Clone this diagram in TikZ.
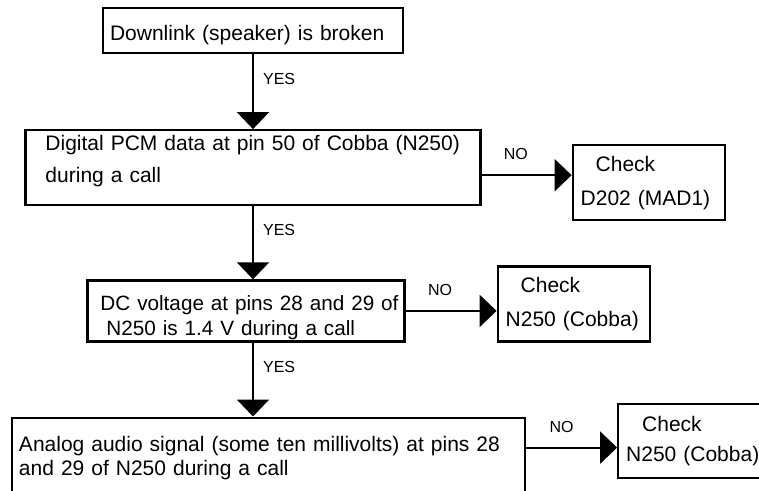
\documentclass[tikz,border=0pt]{standalone}
\usepackage{fontspec}
\setmainfont{Liberation Sans}
\usetikzlibrary{arrows.meta, positioning}
\newcommand{\boxfont}{\fontsize{21bp}{32bp}\selectfont}
\newcommand{\lblfont}{\fontsize{16bp}{19bp}\selectfont}
\tikzstyle{startbox} = [rectangle, draw=black, line width=2.2bp, align=left, inner ysep=0pt, font=\boxfont]
\tikzstyle{testbox} = [startbox]
\tikzstyle{checkbox} = [startbox, minimum width=152bp, minimum height=75bp, inner xsep=8bp, text width=136bp]
\tikzstyle{arrow} = [line width=2.2bp, -{Triangle[width=32bp,length=17bp]}]
\tikzstyle{yesno} = [inner sep=0pt, font=\lblfont]

\begin{document}
\begin{tikzpicture}[x=1bp, y=-1bp]
\useasboundingbox (0,0) rectangle (759,491);

% Tests
\node (broken) [startbox, text width=286bp, inner xsep=7bp, minimum height=45bp] at (253,30.5) {\rule{0pt}{24bp}Downlink (speaker) is broken};
\node (pcm) [testbox, below=75bp of broken, text width=415bp, inner xsep=20bp, minimum height=75bp] {Digital PCM data at pin 50 of Cobba (N250)\\during a call\rule[-18bp]{0pt}{0pt}};
\node (dc) [testbox, below=73bp of pcm, xshift=-7bp, text width=317bp, inner xsep=0bp, minimum height=61bp, font=\fontsize{20.7bp}{25bp}\selectfont] {\rule{0pt}{28bp}\hspace*{13bp}\mbox{DC voltage at pins 28 and 29 of}\\\hspace*{19bp}\mbox{N250 is 1.4 V during a call}};
\node (analog) [testbox, below=74bp of dc, xshift=22.5bp, text width=499bp, inner xsep=7bp, minimum height=80bp, font=\fontsize{21bp}{24bp}\selectfont] {Analog audio signal (some ten millivolts) at pins 28\\and 29 of N250 during a call};

% Checks
\node (chk1) [checkbox, right=90bp of pcm, yshift=-15bp, font=\fontsize{21bp}{34bp}\selectfont] {\hspace*{15bp}Check\\D202 (MAD1)};
\node (chk2) [checkbox, right=91bp of dc, yshift=7bp, font=\fontsize{21bp}{34bp}\selectfont] {\hspace*{15bp}Check\\N250 (Cobba)};
\node (chk3) [checkbox, right=91bp of analog, yshift=17bp, minimum width=142bp, minimum height=74bp, inner xsep=1bp, text width=140bp, font=\fontsize{21bp}{30bp}\selectfont] {\hspace*{23bp}Check\\\hspace*{7bp}N250~(Cobba)};

% YES path
\draw [arrow] (broken.south) -- node[yesno, pos=0.33, right=9bp] {YES} (broken.south |- pcm.north);
\draw [arrow] (pcm.south) -- node[yesno, pos=0.33, right=9bp] {YES} (pcm.south |- dc.north);
\draw [arrow] (pcm.south |- dc.south) -- node[yesno, pos=0.33, right=9bp] {YES} (pcm.south |- analog.north);

% NO branches
\draw [arrow] ([yshift=-7.5bp]pcm.east) -- node[yesno, pos=0.38, above=14bp] {NO} ([yshift=-7.5bp]pcm.east -| chk1.west);
\draw [arrow] (dc.east) -- node[yesno, pos=0.38, above=14bp] {NO} (dc.east -| chk2.west);
\draw [arrow] ([yshift=10bp]analog.east) -- node[yesno, pos=0.39, above=14bp] {NO} ([yshift=10bp]analog.east -| chk3.west);

\end{tikzpicture}
\end{document}
